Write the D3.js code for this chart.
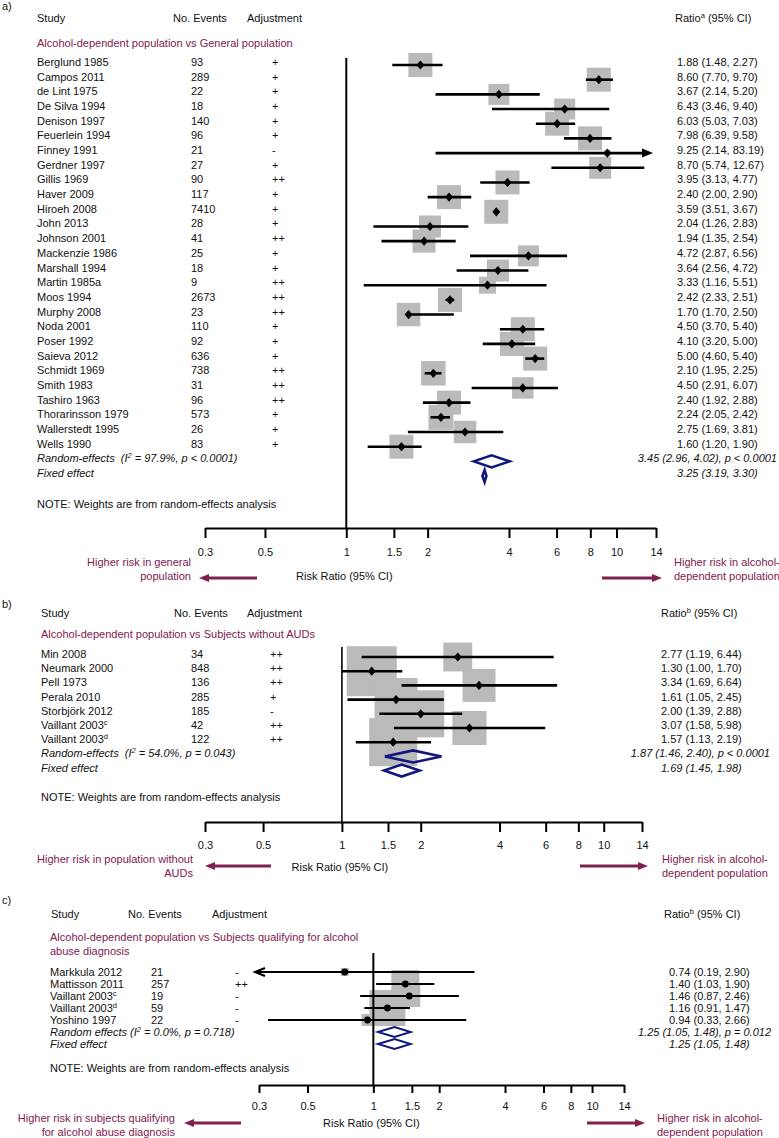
<!DOCTYPE html>
<html><head><meta charset="utf-8">
<script src="https://cdn.jsdelivr.net/npm/d3@7"></script>
<style>
body{margin:0;background:#fff}
svg{display:block;font-family:"Liberation Sans",Arial,sans-serif;font-size:11px}
text{white-space:pre}
</style></head><body>
<svg id="chart" width="779" height="1138"></svg>
<script>
// ---------- DATA ----------
const tickValues = [0.3, 0.5, 1, 1.5, 2, 4, 6, 8, 10, 14];
const tickLabels = ["0.3", "0.5", "1", "1.5", "2", "4", "6", "8", "10", "14"];

// Panel a: Alcohol-dependent population vs General population
const studiesA = ["Berglund 1985","Campos 2011","de Lint 1975","De Silva 1994","Denison 1997","Feuerlein 1994","Finney 1991","Gerdner 1997","Gillis 1969","Haver 2009","Hiroeh 2008","John 2013","Johnson 2001","Mackenzie 1986","Marshall 1994","Martin 1985a","Moos 1994","Murphy 2008","Noda 2001","Poser 1992","Saieva 2012","Schmidt 1969","Smith 1983","Tashiro 1963","Thorarinsson 1979","Wallerstedt 1995","Wells 1990"];
const eventsA = [93,289,22,18,140,96,21,27,90,117,7410,28,41,25,18,9,2673,23,110,92,636,738,31,96,573,26,83];
const adjA = ["+","+","+","+","+","+","-","+","++","+","+","+","++","+","+","++","++","++","+","+","+","++","++","++","+","+","+"];
const rrA = [1.88,8.60,3.67,6.43,6.03,7.98,9.25,8.70,3.95,2.40,3.59,2.04,1.94,4.72,3.64,3.33,2.42,1.70,4.50,4.10,5.00,2.10,4.50,2.40,2.24,2.75,1.60];
const loA = [1.48,7.70,2.14,3.46,5.03,6.39,2.14,5.74,3.13,2.00,3.51,1.26,1.35,2.87,2.56,1.16,2.33,1.70,3.70,3.20,4.60,1.95,2.91,1.92,2.05,1.69,1.20];
const hiA = [2.27,9.70,5.20,9.40,7.03,9.58,83.19,12.67,4.77,2.90,3.67,2.83,2.54,6.56,4.72,5.51,2.51,2.50,5.40,5.00,5.40,2.25,6.07,2.88,2.42,3.81,1.90];
const weightA = [4.16,4.16,3.18,3.18,4.16,4.16,0.26,3.49,4.16,4.16,4.16,3.49,3.82,3.18,3.49,2.08,4.16,3.98,4.16,4.16,4.16,4.33,3.33,4.16,4.51,3.65,4.16];
const randomA = [3.45, 2.96, 4.02];
const fixedA = [3.25, 3.19, 3.30];
const randomLabelA = "Random-effects  (I^2 = 97.9%, p < 0.0001)";
const randomPA = ", p < 0.0001";

// Panel b: Alcohol-dependent population vs Subjects without AUDs
const studiesB = ["Min 2008","Neumark 2000","Pell 1973","Perala 2010","Storbjörk 2012","Vaillant 2003^c","Vaillant 2003^d"];
const eventsB = [34,848,136,285,185,42,122];
const adjB = ["++","++","++","+","-","++","++"];
const rrB = [2.77,1.30,3.34,1.61,2.00,3.07,1.57];
const loB = [1.19,1.00,1.69,1.05,1.39,1.58,1.13];
const hiB = [6.44,1.70,6.64,2.45,2.88,5.98,2.19];
const weightB = [7.0,20.9,9.1,15.5,18.5,9.7,19.3];
const randomB = [1.87, 1.46, 2.40];
const fixedB = [1.69, 1.45, 1.98];
const randomLabelB = "Random-effects  (I^2 = 54.0%, p = 0.043)";
const randomPB = ", p < 0.0001";

// Panel c: Alcohol-dependent population vs Subjects qualifying for alcohol abuse diagnosis
const studiesC = ["Markkula 2012","Mattisson 2011","Vaillant 2003^c","Vaillant 2003^d","Yoshino 1997"];
const eventsC = [21,257,19,59,22];
const adjC = ["-","++","-","-","-"];
const rrC = [0.74,1.40,1.46,1.16,0.94];
const loC = [0.19,1.03,0.87,0.91,0.33];
const hiC = [2.90,1.90,2.46,1.47,2.66];
const weightC = [2.3,28.6,17.6,47.2,5.2];
const randomC = [1.25, 1.05, 1.48];
const fixedC = [1.25, 1.05, 1.48];
const randomLabelC = "Random effects (I^2 = 0.0%, p = 0.718)";
const randomPC = ", p = 0.012";

// ---------- STYLE ----------
const PURPLE = "#80204f", NAVY = "#10187a", GREY = "#bababa";
const svg = d3.select("#chart");
svg.append("rect").attr("width",779).attr("height",1138).attr("fill","#fff");

function richText(sel, x, y, str, o = {}) {
  const t = sel.append("text").attr("x", x).attr("y", y)
    .attr("text-anchor", o.anchor || "start").attr("fill", o.fill || "#111");
  if (o.italic) t.attr("font-style", "italic");
  const parts = str.split(/(\^\w)/);
  let raised = false;
  parts.forEach(p => {
    if (!p) return;
    if (p[0] === "^") { t.append("tspan").attr("dy", -4).attr("font-size", 7.5).text(p.slice(1)); raised = true; }
    else { const ts = t.append("tspan").text(p); if (raised) { ts.attr("dy", 4); raised = false; } }
  });
  return t;
}
const f2 = v => v.toFixed(2);
const ciText = (r, l, h) => `${f2(r)} (${f2(l)}, ${f2(h)})`;

function drawPanel(D, L) {
  const g = svg.append("g");
  const x = d3.scaleLog().domain([0.3, 14]).range(L.range);
  const rowY = i => L.row0 + i * L.step;
  const box = d3.scaleSqrt().domain([0, d3.max(D.weight)]).range([0, L.maxBox]);

  // texts
  richText(g, 2, L.labelY, L.label);
  richText(g, L.studyHead, L.headY, "Study");
  richText(g, L.evHead, L.headY, "No. Events");
  richText(g, L.adjHead, L.headY, "Adjustment");
  richText(g, L.ratioHead, L.headY, L.ratioTitle);
  L.subgroup.forEach((s, i) => richText(g, L.study, L.subY + i * 14, s, {fill: PURPLE}));
  D.studies.forEach((s, i) => {
    const y = rowY(i) + L.textDy;
    richText(g, L.study, y, s);
    richText(g, L.ev, y, String(D.events[i]));
    richText(g, L.adj, y, D.adj[i]);
    richText(g, L.ratio, y, ciText(D.rr[i], D.lo[i], D.hi[i]));
  });
  const n = D.studies.length;
  const yR = rowY(n), yF = rowY(n + 1);
  richText(g, L.study, yR + L.textDy, D.randomLabel, {italic: true});
  richText(g, L.study, yF + L.textDy, "Fixed effect", {italic: true});
  richText(g, L.randomEnd, yR + L.textDy, ciText(...D.random) + D.randomP, {italic: true, anchor: "end"});
  richText(g, L.ratio, yF + L.textDy, ciText(...D.fixed), {italic: true});
  richText(g, L.study, L.noteY, "NOTE: Weights are from random-effects analysis");

  // boxes
  g.append("g").selectAll("rect").data(D.rr).join("rect")
    .attr("x", (d, i) => x(d) - box(D.weight[i]) / 2)
    .attr("y", (d, i) => rowY(i) - box(D.weight[i]) / 2)
    .attr("width", (d, i) => box(D.weight[i]))
    .attr("height", (d, i) => box(D.weight[i]))
    .attr("fill", GREY);

  // null line
  g.append("line").attr("x1", x(1)).attr("x2", x(1)).attr("y1", L.vTop).attr("y2", L.axisY)
    .attr("stroke", "#000").attr("stroke-width", L.vw);

  // CIs
  const xmin = x(0.3) - 4, xmax = x(14) - 3;
  D.rr.forEach((d, i) => {
    const y = rowY(i);
    const x1 = D.lo[i] < 0.3 ? xmin : x(D.lo[i]);
    const x2 = D.hi[i] > 14 ? xmax : x(D.hi[i]);
    const a1 = D.lo[i] < 0.3, a2 = D.hi[i] > 14;
    g.append("line").attr("x1", a1 && L.filledArrow ? x1 + 9 : x1).attr("x2", a2 && L.filledArrow ? x2 - 9 : x2)
      .attr("y1", y).attr("y2", y).attr("stroke", "#000").attr("stroke-width", L.ciw);
    if (a2) g.append("path").attr("d", `M${x2},${y}L${x2 - 11},${y - 4.5}L${x2 - 11},${y + 4.5}Z`).attr("fill", "#000");
    if (a1) {
      if (L.filledArrow) g.append("path").attr("d", `M${x1},${y}L${x1 + 11},${y - 4.5}L${x1 + 11},${y + 4.5}Z`).attr("fill", "#000");
      else g.append("path").attr("d", `M${x1 + 10},${y - 4}L${x1},${y}L${x1 + 10},${y + 4}`)
        .attr("fill", "none").attr("stroke", "#000").attr("stroke-width", 2);
    }
  });
  // markers
  D.rr.forEach((d, i) => {
    const cx = x(d), cy = rowY(i);
    if (L.circle) g.append("circle").attr("cx", cx).attr("cy", cy).attr("r", 3.4).attr("fill", "#000");
    else g.append("path").attr("d", `M${cx},${cy - 4.6}L${cx + 4},${cy}L${cx},${cy + 4.6}L${cx - 4},${cy}Z`).attr("fill", "#000");
  });
  // summary diamonds
  [[D.random, yR], [D.fixed, yF]].forEach(([s, y]) => {
    g.append("path")
      .attr("d", `M${x(s[1])},${y}L${x(s[0])},${y - L.dh}L${x(s[2])},${y}L${x(s[0])},${y + L.dh}Z`)
      .attr("fill", "none").attr("stroke", NAVY).attr("stroke-width", L.dw).attr("stroke-linejoin", "miter");
  });

  // axis
  const ax = g.append("g").attr("transform", `translate(0,${L.axisY})`)
    .call(d3.axisBottom(x).tickValues(tickValues).tickFormat((d, i) => tickLabels[i])
      .tickSize(L.tick).tickSizeOuter(0).tickPadding(L.pad));
  ax.attr("font-family", null).attr("font-size", null);
  ax.select(".domain").attr("stroke", "#000").attr("stroke-width", 2);
  ax.selectAll(".tick line").attr("stroke", "#000").attr("stroke-width", 2);
  ax.selectAll(".tick text").attr("fill", "#111").attr("font-size", 11);

  richText(g, x(1) - 2, L.rrY, "Risk Ratio (95% CI)", {anchor: "middle"});
  L.leftText.forEach((s, i) => richText(g, L.leftX, L.sideY + i * 14, s, {anchor: "end", fill: PURPLE}));
  L.rightText.forEach((s, i) => richText(g, L.rightX, L.sideY + i * 14, s, {fill: PURPLE}));
  const [la, lb] = L.leftArrow, [ra, rb] = L.rightArrow;
  g.append("line").attr("x1", la).attr("x2", lb + 9).attr("y1", L.arrowY).attr("y2", L.arrowY)
    .attr("stroke", PURPLE).attr("stroke-width", 3);
  g.append("path").attr("d", `M${lb},${L.arrowY}L${lb + 10},${L.arrowY - 4}L${lb + 10},${L.arrowY + 4}Z`).attr("fill", PURPLE);
  g.append("line").attr("x1", ra).attr("x2", rb - 9).attr("y1", L.arrowY).attr("y2", L.arrowY)
    .attr("stroke", PURPLE).attr("stroke-width", 3);
  g.append("path").attr("d", `M${rb},${L.arrowY}L${rb - 10},${L.arrowY - 4}L${rb - 10},${L.arrowY + 4}Z`).attr("fill", PURPLE);
}

drawPanel(
  {studies: studiesA, events: eventsA, adj: adjA, rr: rrA, lo: loA, hi: hiA, weight: weightA,
   random: randomA, fixed: fixedA, randomLabel: randomLabelA, randomP: randomPA},
  {label: "a)", labelY: 10, headY: 22, studyHead: 37, study: 37, evHead: 173, ev: 191, adjHead: 247, adj: 272,
   ratioHead: 675, ratio: 677, randomEnd: 777, ratioTitle: "Ratio^a (95% CI)",
   subgroup: ["Alcohol-dependent population vs General population"], subY: 47,
   row0: 65, step: 14.68, textDy: 1, range: [205, 656], vTop: 58, axisY: 528, vw: 2, ciw: 2.6,
   maxBox: 25, dh: 6, dw: 2.6, noteY: 508, tick: 10, pad: 10, filledArrow: true, circle: false,
   rrY: 580, sideY: 566, leftX: 191, rightX: 674, leftArrow: [257, 199], rightArrow: [602, 662], arrowY: 578,
   leftText: ["Higher risk in general", "population"], rightText: ["Higher risk in alcohol-", "dependent population"]});

drawPanel(
  {studies: studiesB, events: eventsB, adj: adjB, rr: rrB, lo: loB, hi: hiB, weight: weightB,
   random: randomB, fixed: fixedB, randomLabel: randomLabelB, randomP: randomPB},
  {label: "b)", labelY: 608, headY: 617, studyHead: 41, study: 41, evHead: 174, ev: 191, adjHead: 247, adj: 270,
   ratioHead: 661, ratio: 661, randomEnd: 770, ratioTitle: "Ratio^b (95% CI)",
   subgroup: ["Alcohol-dependent population vs Subjects without AUDs"], subY: 638,
   row0: 657, step: 14.2, textDy: 1, range: [205, 642], vTop: 647, axisY: 822, vw: 1.6, ciw: 2.6,
   maxBox: 50, dh: 6, dw: 2.6, noteY: 801, tick: 10, pad: 9, filledArrow: true, circle: false,
   rrY: 871, sideY: 863, leftX: 193, rightX: 662, leftArrow: [271, 205], rightArrow: [580, 648], arrowY: 866,
   leftText: ["Higher risk in population without", "AUDs"], rightText: ["Higher risk in alcohol-", "dependent population"]});

drawPanel(
  {studies: studiesC, events: eventsC, adj: adjC, rr: rrC, lo: loC, hi: hiC, weight: weightC,
   random: randomC, fixed: fixedC, randomLabel: randomLabelC, randomP: randomPC},
  {label: "c)", labelY: 904, headY: 918, studyHead: 51, study: 50, evHead: 128, ev: 151, adjHead: 212, adj: 235,
   ratioHead: 664, ratio: 669, randomEnd: 771, ratioTitle: "Ratio^b (95% CI)",
   subgroup: ["Alcohol-dependent population vs Subjects qualifying for alcohol", "abuse diagnosis"], subY: 941,
   row0: 972, step: 12, textDy: 4, range: [259, 624], vTop: 953, axisY: 1085, vw: 2, ciw: 1.8,
   maxBox: 36, dh: 5, dw: 2, noteY: 1072, tick: 8, pad: 9.5, filledArrow: false, circle: true,
   rrY: 1127, sideY: 1122, leftX: 175, rightX: 657, leftArrow: [241, 184], rightArrow: [587, 645], arrowY: 1123,
   leftText: ["Higher risk in subjects qualifying", "for alcohol abuse diagnosis"], rightText: ["Higher risk in alcohol-", "dependent population"]});
</script>
</body></html>
